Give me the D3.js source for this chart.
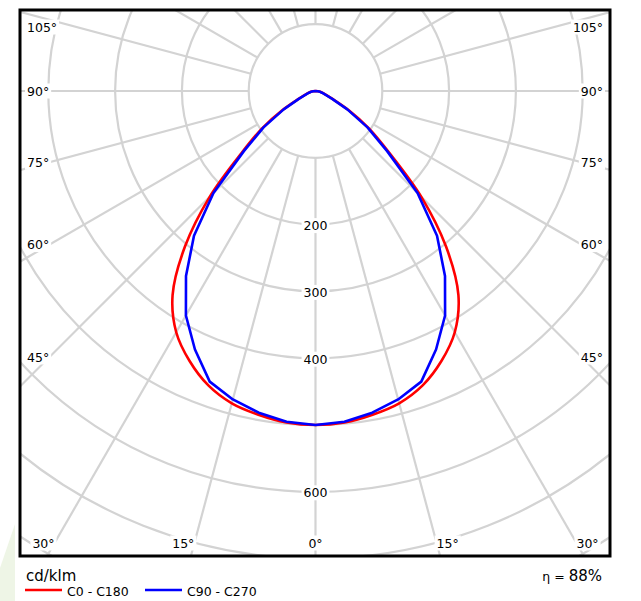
<!DOCTYPE html>
<html><head><meta charset="utf-8">
<script src="https://cdn.jsdelivr.net/npm/d3@7/dist/d3.min.js"></script>
<style>
body{margin:0;background:#fff}
svg{display:block}
text{font-family:"DejaVu Sans",Verdana,sans-serif;fill:#000}
</style>
</head><body>
<svg id="chart" width="641" height="601"></svg>
<script>
// ---- data (cd/klm) ----
const gammaAngles = [0,5,10,15,20,25,30,35,40,45,50,55,60,65,70,75,80,85,90];
const c0c180 =      [500,498,492,484,469,446,417,373,304,224,145,98,57,28,16,11,8,4,0];
const c90c270 =     [500,497,489,478,463,427,388,338,283,216,140,95,55,27,15,10,7,3,0];
const ringValues = [100,200,300,400,500,600,700,800,900,1000];
const ringLabels = [200,300,400,600];
const radialAngles = d3.range(0,360,15);
const sideAngleLabels = [45,60,75,90,105];
const bottomAngleLabels = [0,15,30];
const seriesNames = ["C0 - C180","C90 - C270"];
const seriesColors = ["#ff0000","#0000ff"];
const unitLabel = "cd/klm";
const etaLabel = "88%";

// ---- layout ----
const svg = d3.select("#chart");
const frame = {x:20, y:10, w:590, h:546};
const cx = 315.5, cy = 91;
const r = d3.scaleLinear().domain([0,100]).range([0,66.8]);
const rad = d => d*Math.PI/180;
const px = (g,v) => cx + r(v)*Math.sin(rad(g));
const py = (g,v) => cy + r(v)*Math.cos(rad(g));

// watermark
svg.append("path")
  .attr("d","M0,601 L0,568 L15,524 L15,601 Z")
  .attr("fill","#eef5e6");

svg.append("rect").attr("x",frame.x).attr("y",frame.y).attr("width",frame.w).attr("height",frame.h).attr("fill","#fff");

svg.append("defs").append("clipPath").attr("id","clip")
  .append("rect").attr("x",frame.x).attr("y",frame.y).attr("width",frame.w).attr("height",frame.h);

const grid = svg.append("g").attr("clip-path","url(#clip)")
  .attr("stroke","#d3d3d3").attr("stroke-width",2.2).attr("fill","none");

grid.selectAll("circle").data(ringValues).join("circle")
  .attr("cx",cx).attr("cy",cy).attr("r",d=>r(d));

grid.selectAll("line").data(radialAngles).join("line")
  .attr("x1",d=>px(d,100)).attr("y1",d=>py(d,100))
  .attr("x2",d=>px(d,1400)).attr("y2",d=>py(d,1400));

// labels with white background
const labels = svg.append("g");
function bgText(x,y,txt,anchor,size){
  const g = labels.append("g");
  const t = g.append("text").attr("x",x).attr("y",y).attr("text-anchor",anchor)
    .attr("dominant-baseline","central").attr("font-size",size).text(txt);
  const b = t.node().getBBox();
  g.insert("rect","text").attr("x",b.x-2).attr("y",b.y).attr("width",b.width+4).attr("height",b.height).attr("fill","#fff");
}

// ring labels along 0°
ringLabels.forEach(v => bgText(cx, py(0,v)+1, String(v), "middle", 12.5));

// side angle labels
const D = 266;
sideAngleLabels.forEach(g => {
  let y = cy + D*Math.cos(rad(g))/Math.sin(rad(g));
  y = Math.max(y, frame.y+17);
  bgText(frame.x+7, y, g+"°", "start", 12.5);
  bgText(frame.x+frame.w-7, y, g+"°", "end", 12.5);
});
// bottom angle labels
const by = 543;
bottomAngleLabels.forEach(g => {
  const dx = (by-cy)*Math.tan(rad(g));
  if (g===0) { bgText(cx, by, "0°", "middle", 12.5); }
  else {
    bgText(cx-dx, by, g+"°", "end", 12.5);
    bgText(cx+dx, by, g+"°", "start", 12.5);
  }
});

// curves
const line = d3.line().x(d=>px(d[0],d[1])).y(d=>py(d[0],d[1]));
function fullCurve(vals){
  const left = gammaAngles.map((g,i)=>[-g, vals[i]]).reverse();
  const right = gammaAngles.slice(1).map((g,i)=>[g, vals[i+1]]);
  return left.concat(right);
}
const curvesG = svg.append("g").attr("clip-path","url(#clip)").attr("fill","none").attr("stroke-width",2.6).attr("stroke-linejoin","round");
curvesG.append("path").datum(fullCurve(c0c180))
  .attr("d", line.curve(d3.curveCatmullRom.alpha(0.5))).attr("stroke",seriesColors[0]);
curvesG.append("path").datum(fullCurve(c90c270))
  .attr("d", line.curve(d3.curveLinear)).attr("stroke",seriesColors[1]);

// frame
svg.append("rect").attr("x",frame.x).attr("y",frame.y).attr("width",frame.w).attr("height",frame.h)
  .attr("fill","none").attr("stroke","#000").attr("stroke-width",3);

// legend
svg.append("text").attr("x",26).attr("y",581).attr("font-size",15).text(unitLabel);
const legX = [25,145];
seriesNames.forEach((n,i)=>{
  svg.append("line").attr("x1",legX[i]).attr("x2",legX[i]+37).attr("y1",590).attr("y2",590)
    .attr("stroke",seriesColors[i]).attr("stroke-width",2.6);
  svg.append("text").attr("x",legX[i]+42).attr("y",596).attr("font-size",12.5).text(n);
});
const eta = svg.append("text").attr("x",602).attr("y",581).attr("text-anchor","end");
eta.append("tspan").attr("font-size",12.5).text("η = ");
eta.append("tspan").attr("font-size",15).text(etaLabel);
</script>
</body></html>
